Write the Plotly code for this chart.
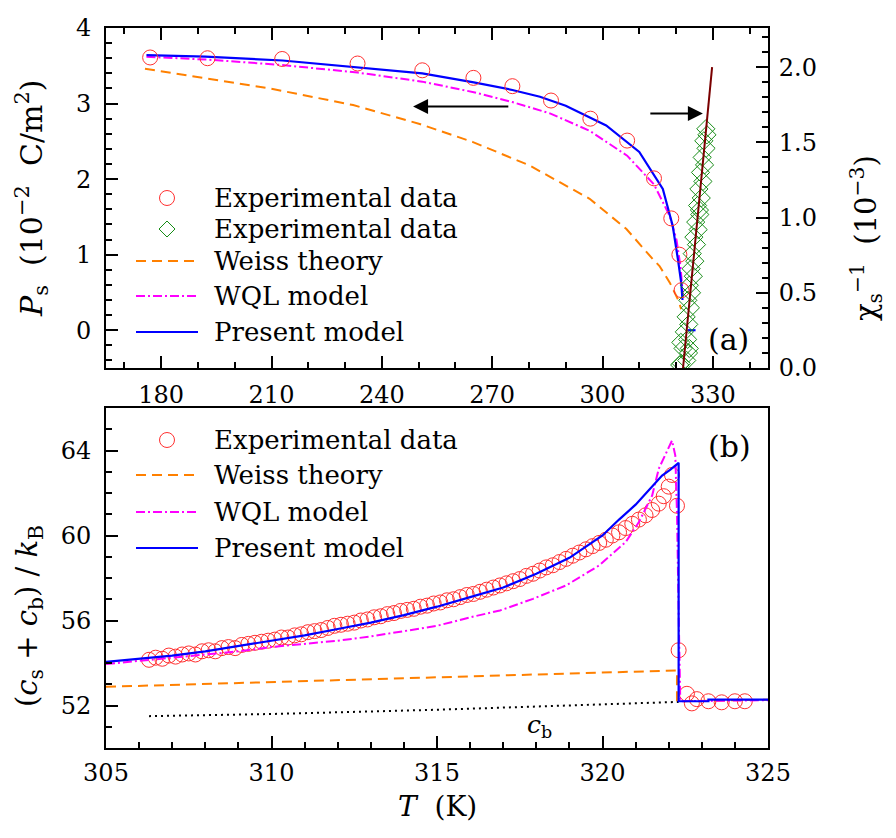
import plotly.graph_objects as go

# ---------------- data: panel (a) ----------------
# spontaneous polarization P_s (10^-2 C/m^2), left axis
exp_P_T = [177.0, 192.6, 212.9, 233.4, 251.0, 264.9, 275.5, 286.0, 296.7, 306.7, 314.0, 318.7, 320.9, 321.5]
exp_P = [3.61, 3.60, 3.59, 3.53, 3.44, 3.34, 3.23, 3.04, 2.80, 2.51, 2.01, 1.48, 1.00, 0.53]

weiss_P_T = [175.6, 190.5, 209.6, 232.2, 250.3, 264.8, 280.2, 296.5, 306.5, 313.7, 315.5, 318.3, 320.5, 321.4]
weiss_P = [3.46, 3.35, 3.20, 2.98, 2.73, 2.49, 2.18, 1.74, 1.34, 0.94, 0.85, 0.63, 0.41, 0.28]

wql_P_T = [176.0, 193.0, 213.0, 233.4, 251.0, 265.0, 275.5, 285.7, 296.5, 306.7, 314.0, 318.3, 320.1, 321.2, 321.9]
wql_P = [3.62, 3.58, 3.51, 3.41, 3.29, 3.15, 3.02, 2.87, 2.64, 2.31, 1.93, 1.51, 1.20, 0.85, 0.44]

present_P_T = [176.0, 192.0, 213.0, 233.0, 251.0, 265.0, 275.5, 283.0, 290.0, 301.0, 310.0, 316.4, 319.1, 320.5, 321.4, 321.75, None, 323.2, 325.3]
present_P = [3.64, 3.62, 3.57, 3.48, 3.40, 3.28, 3.18, 3.09, 2.97, 2.71, 2.36, 1.87, 1.38, 0.94, 0.63, 0.40, None, 0.0, 0.0]

# inverse susceptibility chi_s^-1 (10^-3), right axis
exp_chi_T = [321.0, 321.4, 322.9, 323.4, 321.9, 321.3, 323.15, 322.25, 323.6, 323.45, 322.75, 323.9, 323.2, 324.2,
             323.6, 324.7, 324.1, 325.1, 324.4, 325.55, 324.85, 326.0, 325.35, 326.45, 326.35, 325.85, 326.85,
             326.2, 327.3, 326.65, 327.75, 327.1, 328.15, 327.55, 328.4, 328.1]
exp_chi = [0.02, 0.03, 0.05, 0.10, 0.13, 0.17, 0.19, 0.24, 0.13, 0.29, 0.34, 0.40, 0.45, 0.50,
           0.55, 0.61, 0.66, 0.71, 0.76, 0.82, 0.87, 0.92, 0.97, 1.02, 1.05, 1.08, 1.13,
           1.19, 1.24, 1.30, 1.35, 1.40, 1.46, 1.51, 1.55, 1.59]
fit_chi_T = [321.9, 329.8]
fit_chi = [0.0, 2.0]

# ---------------- data: panel (b) ----------------
exp_c_T = [306.3, 306.5, 306.7, 306.9, 307.1, 307.3, 307.5, 307.7, 307.9, 308.1, 308.3, 308.5, 308.7, 308.9,
           309.1, 309.3, 309.5, 309.7, 309.9, 310.1, 310.3, 310.5, 310.7, 310.9, 311.1, 311.3, 311.5, 311.7,
           311.9, 312.1, 312.3, 312.5, 312.7, 312.9, 313.1, 313.3, 313.5, 313.7, 313.9, 314.1, 314.3, 314.5,
           314.7, 314.9, 315.1, 315.3, 315.5, 315.7, 315.9, 316.1, 316.3, 316.5, 316.7, 316.9, 317.1, 317.3,
           317.5, 317.7, 317.9, 318.1, 318.3, 318.5, 318.7, 318.9, 319.1, 319.3, 319.5, 319.7, 319.9, 320.1,
           320.3, 320.5, 320.7, 320.9, 321.1, 321.3, 321.5, 321.7, 321.85, 322.0, 322.1,
           322.25, 322.3, 322.55, 322.7, 322.85, 323.2, 323.6, 324.0, 324.3]
exp_c = [54.15, 54.25, 54.2, 54.35, 54.3, 54.4, 54.45, 54.4, 54.55, 54.6, 54.55, 54.7, 54.75, 54.7,
         54.85, 54.9, 54.95, 55.0, 55.05, 55.1, 55.2, 55.2, 55.3, 55.35, 55.45, 55.5, 55.55, 55.65,
         55.75, 55.8, 55.85, 55.9, 56.0, 56.05, 56.15, 56.2, 56.3, 56.35, 56.45, 56.5, 56.55, 56.65,
         56.7, 56.8, 56.85, 56.95, 57.0, 57.1, 57.2, 57.25, 57.35, 57.45, 57.55, 57.65, 57.75, 57.85,
         57.95, 58.1, 58.2, 58.35, 58.5, 58.6, 58.75, 58.9, 59.05, 59.2, 59.35, 59.5, 59.65, 59.8,
         60.0, 60.15, 60.35, 60.55, 60.75, 60.95, 61.2, 61.5, 61.85, 62.3, 62.85,
         61.4, 54.6, 52.55, 52.1, 52.3, 52.2, 52.15, 52.2, 52.2]

weiss_c_T = [305.0, 310.0, 315.0, 320.0, 322.25, 322.25, 325.0]
weiss_c = [52.88, 53.1, 53.33, 53.55, 53.65, 52.2, 52.27]

wql_c_T = [305.0, 306.0, 307.0, 308.0, 309.0, 310.0, 311.0, 312.0, 313.0, 314.0, 315.0, 316.0, 316.9, 317.9,
           318.9, 319.9, 320.7, 321.1, 321.5, 321.7, 322.0, 322.1, 322.2, 322.25, 322.3, 322.35, 325.0]
wql_c = [53.95, 54.1, 54.25, 54.4, 54.55, 54.75, 54.9, 55.05, 55.25, 55.5, 55.75, 56.15, 56.47, 57.02,
         57.65, 58.59, 59.69, 60.63, 61.88, 63.14, 64.08, 64.47, 63.76, 61.1, 56.4, 52.2, 52.25]

present_c_T = [305.0, 306.0, 307.0, 308.0, 309.0, 310.0, 311.0, 312.0, 313.0, 314.0, 315.0, 316.0, 317.0,
               318.0, 319.0, 320.0, 320.5, 321.0, 321.5, 321.8, 322.05, 322.3, 322.3, 323.2, 323.2, 325.0]
present_c = [54.05, 54.2, 54.35, 54.55, 54.8, 55.05, 55.3, 55.6, 55.9, 56.25, 56.65, 57.1, 57.55,
             58.2, 58.95, 60.0, 60.75, 61.45, 62.3, 62.82, 63.1, 63.42, 52.2, 52.2, 52.28, 52.28]

cb_T = [306.3, 310.0, 315.0, 320.0, 322.3]
cb = [51.5, 51.6, 51.8, 52.05, 52.17]

# ---------------- styles ----------------
FONT = "DejaVu Serif"
RED = "#ff3030"
GREEN = "#168c16"
ORANGE = "#ff8000"
MAGENTA = "#ff00ff"
BLUE = "#0000ff"
BROWN = "#7a0000"
DASH_W = "10px,6px"
DASH_WQL = "9px,3px,2px,3px"
DOT = "2px,4px"

ML, MR, MT, MB = 106, 128, 28, 90
W, H = 896, 838
PW, PH = W - ML - MR, H - MT - MB


def pxx(px):
    return (px - ML) / PW


def pxy(py):
    return (H - MB - py) / PH


fig = go.Figure()

# panel (a)
fig.add_trace(go.Scatter(x=weiss_P_T, y=weiss_P, mode="lines", xaxis="x", yaxis="y",
                         line=dict(color=ORANGE, width=2, dash=DASH_W)))
fig.add_trace(go.Scatter(x=wql_P_T, y=wql_P, mode="lines", xaxis="x", yaxis="y",
                         line=dict(color=MAGENTA, width=2, dash=DASH_WQL)))
fig.add_trace(go.Scatter(x=present_P_T, y=present_P, mode="lines", xaxis="x", yaxis="y",
                         line=dict(color=BLUE, width=2.2), connectgaps=False))
fig.add_trace(go.Scatter(x=exp_P_T, y=exp_P, mode="markers", xaxis="x", yaxis="y",
                         marker=dict(symbol="circle-open", size=15, color=RED, line=dict(width=1))))
fig.add_trace(go.Scatter(x=exp_chi_T, y=exp_chi, mode="markers", xaxis="x", yaxis="y2",
                         marker=dict(symbol="diamond-open", size=14, color=GREEN, line=dict(width=1))))
fig.add_trace(go.Scatter(x=fit_chi_T, y=fit_chi, mode="lines", xaxis="x", yaxis="y2",
                         line=dict(color=BROWN, width=2)))

# panel (b)
fig.add_trace(go.Scatter(x=exp_c_T, y=exp_c, mode="markers", xaxis="x2", yaxis="y3",
                         marker=dict(symbol="circle-open", size=15, color=RED, line=dict(width=1))))
fig.add_trace(go.Scatter(x=weiss_c_T, y=weiss_c, mode="lines", xaxis="x2", yaxis="y3",
                         line=dict(color=ORANGE, width=2, dash=DASH_W)))
fig.add_trace(go.Scatter(x=cb_T, y=cb, mode="lines", xaxis="x2", yaxis="y3",
                         line=dict(color="black", width=2, dash=DOT)))
fig.add_trace(go.Scatter(x=wql_c_T, y=wql_c, mode="lines", xaxis="x2", yaxis="y3",
                         line=dict(color=MAGENTA, width=2, dash=DASH_WQL)))
fig.add_trace(go.Scatter(x=present_c_T, y=present_c, mode="lines", xaxis="x2", yaxis="y3",
                         line=dict(color=BLUE, width=2.2)))

tickfont = dict(family=FONT, size=24, color="black")
top_dom = [pxy(368), 1.0]
bot_dom = [0.0, pxy(408)]

common = dict(showgrid=False, zeroline=False, showline=True, linecolor="black", linewidth=2,
              ticks="inside", ticklen=12, tickwidth=1.5, tickcolor="black", tickfont=tickfont)
minor_style = dict(ticks="inside", ticklen=6, tickcolor="black", tickwidth=1.5, showgrid=False)

fig.update_layout(
    width=W, height=H, margin=dict(l=ML, r=MR, t=MT, b=MB),
    paper_bgcolor="white", plot_bgcolor="white", showlegend=False, hovermode=False,
    font=dict(family=FONT, color="black"),
    xaxis=dict(common, domain=[0, 1], anchor="y", range=[165, 345], tick0=180, dtick=30,
               mirror="ticks", ticklabelstandoff=4, minor=dict(minor_style, dtick=10)),
    yaxis=dict(common, domain=top_dom, anchor="x", range=[-0.5, 4], tick0=0, dtick=1,
               ticklabelstandoff=8, minor=dict(minor_style, dtick=0.2)),
    yaxis2=dict(common, overlaying="y", side="right", anchor="x", range=[0, 2.26], tick0=0, dtick=0.5,
                tickformat=".1f", ticklabelstandoff=4, minor=dict(minor_style, dtick=0.1)),
    xaxis2=dict(common, domain=[0, 1], anchor="y3", range=[305, 325], tick0=305, dtick=5, mirror=True,
                ticklabelstandoff=2, minor=dict(minor_style, dtick=1)),
    yaxis3=dict(common, domain=bot_dom, anchor="x2", range=[50, 66], tick0=52, dtick=4, mirror=True,
                ticklabelstandoff=8, minor=dict(minor_style, dtick=1, tick0=0)),
)

ann = []
shapes = []


def text(px, py, s, size, angle=0, xanchor="center"):
    ann.append(dict(x=pxx(px), y=pxy(py), xref="paper", yref="paper", text=s, showarrow=False,
                    textangle=angle, xanchor=xanchor, yanchor="middle",
                    font=dict(family=FONT, size=size, color="black")))


SP = "\u00a0"
# axis titles
text(31, 198, "<i>P</i><sub>s</sub>" + SP * 2 + "(10<sup>−2</sup>" + SP * 2 + "C/m<sup>2</sup>)", 30, angle=-90)
text(866, 238, "χ<sub>s</sub><sup>−1</sup>" + SP * 2 + "(10<sup>−3</sup>)", 29, angle=-90)
text(29, 616, "(<i>c</i><sub>s</sub>" + SP + "+" + SP + "<i>c</i><sub>b</sub>)" + SP + "/" + SP
     + "<i>k</i><sub>B</sub>", 29, angle=-90)
text(437, 806, "<i>T</i>" + SP * 2 + "(K)", 28)
text(728, 339, "(a)", 30)
text(729, 447, "(b)", 30)

# c_b label (data coords)
ann.append(dict(x=318.1, y=51.05, xref="x2", yref="y3", text="<i>c</i><sub>b</sub>", showarrow=False,
                font=dict(family=FONT, size=25, color="black")))

# arrows
ann.append(dict(x=248.5, y=2.96, ax=274.8, ay=2.96, xref="x", yref="y", axref="x", ayref="y",
                text="", showarrow=True, arrowhead=2, arrowsize=1.5, arrowwidth=2, arrowcolor="black"))
ann.append(dict(x=327.3, y=2.87, ax=312.6, ay=2.87, xref="x", yref="y", axref="x", ayref="y",
                text="", showarrow=True, arrowhead=2, arrowsize=1.5, arrowwidth=2, arrowcolor="black"))


def leg_line(py, color, dash, width=2):
    shapes.append(dict(type="line", xref="paper", yref="paper", x0=pxx(136), x1=pxx(198),
                       y0=pxy(py), y1=pxy(py), line=dict(color=color, width=width, dash=dash)))


def leg_circle(py):
    shapes.append(dict(type="circle", xref="paper", yref="paper", xsizemode="pixel", ysizemode="pixel",
                       xanchor=pxx(167), yanchor=pxy(py), x0=-7.5, x1=7.5, y0=-7.5, y1=7.5,
                       line=dict(color=RED, width=1)))


def leg_diamond(py):
    shapes.append(dict(type="path", xref="paper", yref="paper", xsizemode="pixel", ysizemode="pixel",
                       xanchor=pxx(167), yanchor=pxy(py), path="M 0,8 L 8,0 L 0,-8 L -8,0 Z",
                       line=dict(color=GREEN, width=1)))


LF = 26
# legend (a)
rows_a = [198, 229, 261, 296, 332]
leg_circle(rows_a[0]); text(212, rows_a[0], "Experimental data", LF, xanchor="left")
leg_diamond(rows_a[1]); text(212, rows_a[1], "Experimental data", LF, xanchor="left")
leg_line(rows_a[2], ORANGE, DASH_W); text(212, rows_a[2], "Weiss theory", LF, xanchor="left")
leg_line(rows_a[3], MAGENTA, DASH_WQL); text(212, rows_a[3], "WQL model", LF, xanchor="left")
leg_line(rows_a[4], BLUE, "solid", 2.2); text(212, rows_a[4], "Present model", LF, xanchor="left")

# legend (b)
rows_b = [440, 475, 512, 548]
leg_circle(rows_b[0]); text(212, rows_b[0], "Experimental data", LF, xanchor="left")
leg_line(rows_b[1], ORANGE, DASH_W); text(212, rows_b[1], "Weiss theory", LF, xanchor="left")
leg_line(rows_b[2], MAGENTA, DASH_WQL); text(212, rows_b[2], "WQL model", LF, xanchor="left")
leg_line(rows_b[3], BLUE, "solid", 2.2); text(212, rows_b[3], "Present model", LF, xanchor="left")

fig.update_layout(annotations=ann, shapes=shapes)
fig.write_html("out.html")
